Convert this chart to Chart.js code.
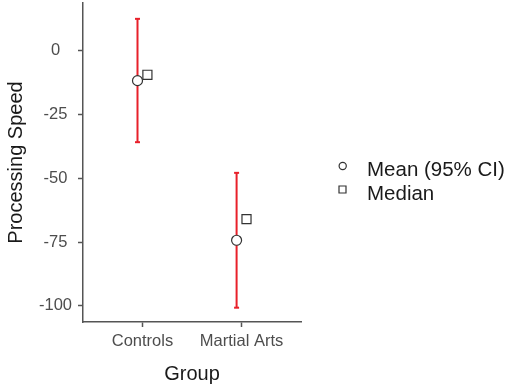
<!DOCTYPE html>
<html>
<head>
<meta charset="utf-8">
<script src="https://cdn.jsdelivr.net/npm/chart.js@4.4.1/dist/chart.umd.min.js"></script>
<style>
  html, body { margin: 0; padding: 0; background: #fff; }
  #wrap { width: 510px; height: 388px; position: relative; }
</style>
</head>
<body>
<div id="wrap"><canvas id="chart"></canvas></div>
<script>
// values
const groups = ['Controls', 'Martial Arts'];
const meanValues = [-11.8, -74.3];
const ciUpper = [12.4, -47.9];
const ciLower = [-35.9, -100.7];
const medianValues = [-9.5, -66.0];
const yTickValues = [0, -25, -50, -75, -100];
const legendLabels = ['Mean (95% CI)', 'Median'];

const dodge = 0.05;
const ciColor = '#e8202a';
const markColor = '#333333';
const axisColor = '#555555';
const fontFamily = "'Liberation Sans', Arial, sans-serif";

const groupX = i => i + 1;

const datasets = [
  {
    label: legendLabels[0],
    data: groups.map((g, i) => ({ x: groupX(i) - dodge, y: meanValues[i] })),
    pointStyle: 'circle',
    pointRadius: 5,
    backgroundColor: '#ffffff',
    borderColor: markColor,
    borderWidth: 1.2,
    order: 0
  },
  {
    label: legendLabels[1],
    data: groups.map((g, i) => ({ x: groupX(i) + dodge, y: medianValues[i] })),
    pointStyle: 'rect',
    pointRadius: 6.4,
    backgroundColor: '#ffffff',
    borderColor: markColor,
    borderWidth: 1.2,
    order: 0
  }
];

// one vertical line per group for the confidence interval
groups.forEach((g, i) => {
  datasets.push({
    label: 'CI ' + g,
    data: [
      { x: groupX(i) - dodge, y: ciUpper[i] },
      { x: groupX(i) - dodge, y: ciLower[i] }
    ],
    showLine: true,
    borderColor: ciColor,
    borderWidth: 2,
    pointStyle: 'line',
    pointRadius: 2.5,
    pointBorderColor: ciColor,
    pointBorderWidth: 2,
    order: 1
  });
});

// legend drawn to the right of the plot
const sideLegend = {
  id: 'sideLegend',
  afterDraw(chart) {
    const ctx = chart.ctx;
    ctx.save();
    ctx.strokeStyle = markColor;
    ctx.fillStyle = '#fff';
    ctx.lineWidth = 1.2;
    // circle
    ctx.beginPath();
    ctx.arc(342.7, 166, 3.6, 0, Math.PI * 2);
    ctx.fill();
    ctx.stroke();
    // square
    ctx.beginPath();
    ctx.rect(339, 186, 7, 7);
    ctx.fill();
    ctx.stroke();

    ctx.fillStyle = '#1a1a1a';
    ctx.font = '20.5px ' + fontFamily;
    ctx.textBaseline = 'alphabetic';
    ctx.textAlign = 'left';
    ctx.fillText(legendLabels[0], 367, 176);
    ctx.fillText(legendLabels[1], 367, 200);
    ctx.restore();
  }
};

new Chart(document.getElementById('chart').getContext('2d'), {
  type: 'scatter',
  data: { datasets },
  options: {
    responsive: true,
    maintainAspectRatio: false,
    animation: false,
    layout: {
      autoPadding: false,
      padding: { top: 3, right: 209, bottom: 0, left: 0 }
    },
    plugins: {
      legend: { display: false },
      tooltip: { enabled: false }
    },
    scales: {
      x: {
        type: 'linear',
        min: 0.4,
        max: 2.6,
        afterBuildTicks: scale => {
          scale.ticks = groups.map((g, i) => ({ value: groupX(i) }));
        },
        afterFit: scale => {
          scale.height = 66;
          scale.paddingLeft = 0;
          scale.paddingRight = 0;
        },
        ticks: {
          callback: v => groups[v - 1],
          color: '#4d4d4d',
          font: { family: fontFamily, size: 16.5 },
          padding: 5,
          maxRotation: 0,
          autoSkip: false
        },
        grid: {
          drawOnChartArea: false,
          drawTicks: true,
          tickLength: 5,
          tickWidth: 1.5,
          color: axisColor
        },
        border: { display: true, color: axisColor, width: 1.5 },
        title: {
          display: true,
          text: 'Group',
          color: '#1a1a1a',
          font: { family: fontFamily, size: 20 },
          padding: { top: 0, bottom: 2 }
        }
      },
      y: {
        type: 'linear',
        min: -106.3,
        max: 18.6,
        afterBuildTicks: scale => {
          scale.ticks = yTickValues.map(v => ({ value: v }));
        },
        afterFit: scale => {
          scale.width = 83;
          scale.paddingTop = 0;
          scale.paddingBottom = 0;
        },
        ticks: {
          color: '#4d4d4d',
          font: { family: fontFamily, size: 16.5 },
          padding: 6,
          crossAlign: 'center'
        },
        grid: {
          drawOnChartArea: false,
          drawTicks: true,
          tickLength: 5,
          tickWidth: 1.5,
          color: axisColor
        },
        border: { display: true, color: axisColor, width: 1.5 },
        title: {
          display: true,
          text: 'Processing Speed',
          color: '#1a1a1a',
          font: { family: fontFamily, size: 20 },
          padding: { top: 4, bottom: 0 }
        }
      }
    }
  },
  plugins: [sideLegend]
});
</script>
</body>
</html>
